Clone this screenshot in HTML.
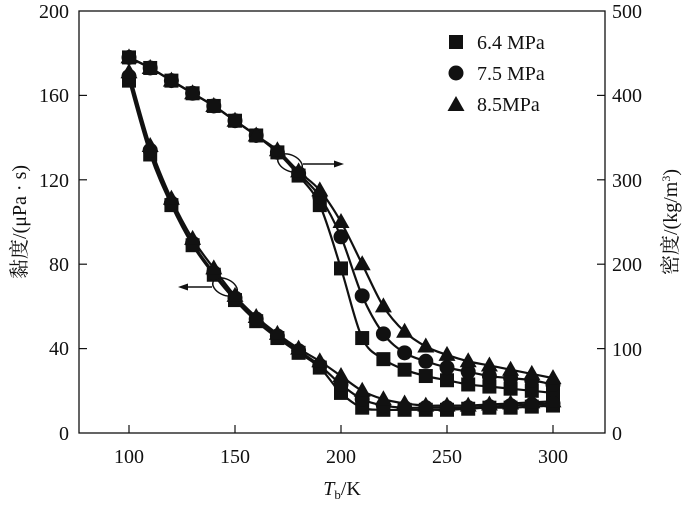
<!DOCTYPE html>
<html><head><meta charset="utf-8"><style>
html,body{margin:0;padding:0;background:#fff}
svg{display:block}
text{font-family:"Liberation Serif","Noto Serif CJK SC",serif;fill:#111}
</style></head><body>
<svg id="s" width="684" height="506" viewBox="0 0 684 506" xmlns="http://www.w3.org/2000/svg">
<rect x="79" y="11" width="526" height="422" fill="none" stroke="#111" stroke-width="1.3"/>
<g stroke="#111" stroke-width="1.2">
<line x1="79" y1="348.6" x2="87" y2="348.6"/><line x1="79" y1="264.2" x2="87" y2="264.2"/>
<line x1="79" y1="179.8" x2="87" y2="179.8"/><line x1="79" y1="95.4" x2="87" y2="95.4"/>
<line x1="597" y1="348.6" x2="605" y2="348.6"/><line x1="597" y1="264.2" x2="605" y2="264.2"/>
<line x1="597" y1="179.8" x2="605" y2="179.8"/><line x1="597" y1="95.4" x2="605" y2="95.4"/>
<line x1="129" y1="433" x2="129" y2="425"/><line x1="235" y1="433" x2="235" y2="425"/>
<line x1="341" y1="433" x2="341" y2="425"/><line x1="447" y1="433" x2="447" y2="425"/>
<line x1="553" y1="433" x2="553" y2="425"/>
</g>
<g font-size="20" text-anchor="end">
<text x="69" y="440">0</text><text x="69" y="355">40</text><text x="69" y="271">80</text>
<text x="69" y="187">120</text><text x="69" y="102">160</text><text x="69" y="18">200</text>
</g>
<g font-size="20" text-anchor="start">
<text x="612" y="440">0</text><text x="612" y="356">100</text><text x="612" y="271">200</text>
<text x="612" y="187">300</text><text x="612" y="102">400</text><text x="612" y="18">500</text>
</g>
<g font-size="20" text-anchor="middle">
<text x="129" y="463">100</text><text x="235" y="463">150</text><text x="341" y="463">200</text>
<text x="447" y="463">250</text><text x="553" y="463">300</text>
</g>
<text x="342" y="495" font-size="20" text-anchor="middle"><tspan font-style="italic">T</tspan><tspan font-size="13" dy="4">b</tspan><tspan dy="-4">/K</tspan></text>
<text transform="translate(26,222) rotate(-90)" font-size="20" text-anchor="middle">黏度/(μPa · s)</text>
<text transform="translate(677,222) rotate(-90)" font-size="20" text-anchor="middle">密度/(kg/m<tspan font-size="12" dy="-7">3</tspan><tspan dy="7">)</tspan></text>
<g font-size="20">
<text x="477" y="49">6.4 MPa</text><text x="477" y="80">7.5 MPa</text><text x="477" y="111">8.5MPa</text>
</g>
<rect x="449" y="35" width="14" height="14" fill="#111"/>
<circle cx="456" cy="73" r="7.5" fill="#111"/>
<polygon points="456,96 464.5,111 447.5,111" fill="#111"/>
<g stroke="#111" stroke-width="1.5" fill="none">
<ellipse cx="290" cy="163" rx="13" ry="8" transform="rotate(25 290 163)"/>
<line x1="303" y1="164" x2="340" y2="164"/>
<ellipse cx="225" cy="287" rx="13" ry="8" transform="rotate(25 225 287)"/>
<line x1="212" y1="287" x2="182" y2="287"/>
</g>
<polygon points="344,164 334,160.5 334,167.5" fill="#111"/>
<polygon points="178,287 188,283.5 188,290.5" fill="#111"/>
<g id="d"></g>
</svg>
<script>
var T=[100,110,120,130,140,150,160,170,180,190,200,210,220,230,240,250,260,270,280,290,300];
var visc={
sq:[167,132,108,89,75,63,53,45,38,31,19,12,11,11,11,11,11.5,12,12,12.5,13],
ci:[169,134,109,90,76,64,54,46,39,32,23,16,13,12,12,12,12,12.5,13,13.5,14],
tr:[171,136,111,92,78,65,55,47,40,34,27,20,16,14,13,13,13,13.5,14,14.5,15]};
var dens={
sq:[178,173,167,161,155,148,141,133,122,108,78,45,35,30,27,25,23,22,21,20,19],
ci:[178,173,167,161,155,148,141,133,123,112,93,65,47,38,34,31,29,27,26,25,23],
tr:[178,173,167,161,155,148,141,134,124,115,100,80,60,48,41,37,34,32,30,28,26]};
function X(t){return 129+(t-100)*2.12}
function Y(v){return 433-v*2.11}
var g=document.getElementById('d'),h='';
function path(a){var p=a.map(function(v,i){return [X(T[i]),Y(v)]});var s='M'+p[0][0]+','+p[0][1];
for(var i=0;i<p.length-1;i++){var p0=p[i-1]||p[i],p1=p[i],p2=p[i+1],p3=p[i+2]||p2;
s+=' C'+(p1[0]+(p2[0]-p0[0])/6)+','+(p1[1]+(p2[1]-p0[1])/6)+' '+(p2[0]-(p3[0]-p1[0])/6)+','+(p2[1]-(p3[1]-p1[1])/6)+' '+p2[0]+','+p2[1];}
return '<path d="'+s+'" fill="none" stroke="#111" stroke-width="2.2"/>';}
function mk(k,x,y){if(k=='sq')return '<rect x="'+(x-7)+'" y="'+(y-7)+'" width="14" height="14" fill="#111"/>';
if(k=='ci')return '<circle cx="'+x+'" cy="'+y+'" r="7.5" fill="#111"/>';
return '<polygon points="'+x+','+(y-9)+' '+(x+8.5)+','+(y+6)+' '+(x-8.5)+','+(y+6)+'" fill="#111"/>';}
['sq','ci','tr'].forEach(function(k){h+=path(visc[k])+path(dens[k]);});
['sq','ci','tr'].forEach(function(k){T.forEach(function(t,i){h+=mk(k,X(t),Y(visc[k][i]))+mk(k,X(t),Y(dens[k][i]));});});
g.innerHTML=h;
</script>
</body></html>
